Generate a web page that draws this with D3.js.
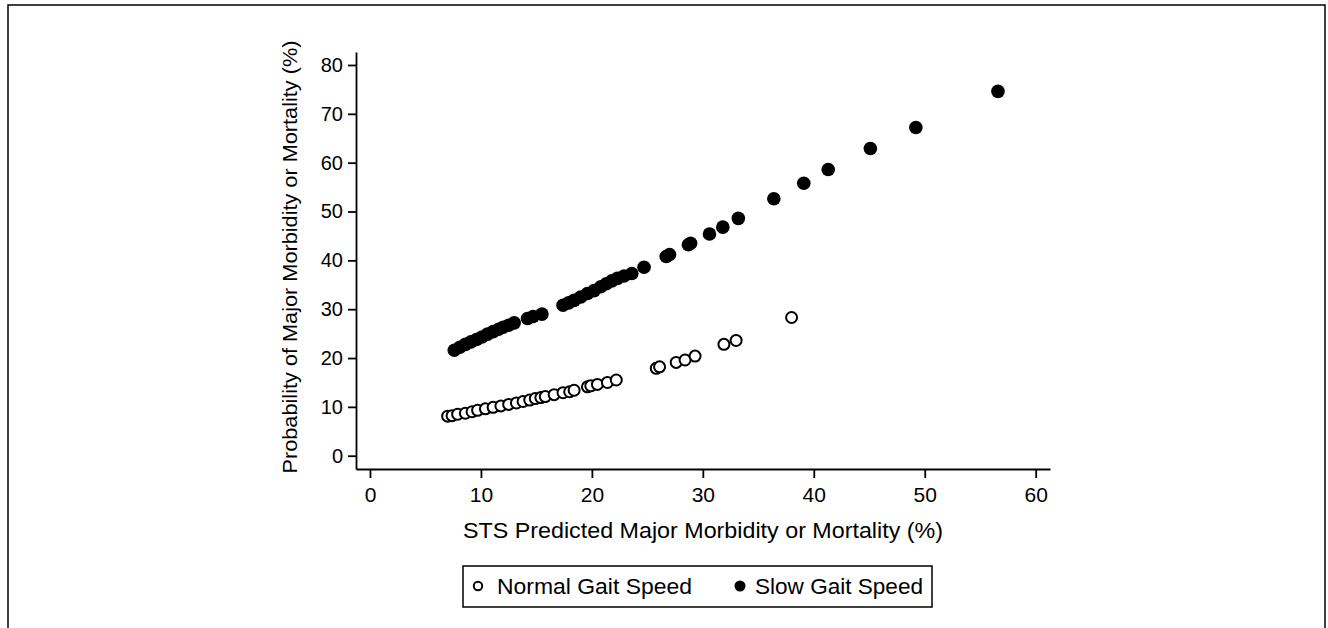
<!DOCTYPE html>
<html><head><meta charset="utf-8">
<script src="https://cdn.jsdelivr.net/npm/d3@7"></script>
<style>
html,body{margin:0;padding:0;background:#fff;}
svg{display:block;font-family:"Liberation Sans",Arial,sans-serif;}
</style></head>
<body>
<svg id="chart" width="1328" height="628"></svg>
<script>
// Slow gait speed (filled)
const slowX = [7.6, 8.1, 8.6, 9.1, 9.6, 10.1, 10.6, 11.1, 11.6, 12.0, 12.5, 13.0, 14.2, 14.7, 15.5, 17.4, 17.9, 18.4, 19.0, 19.6, 20.2, 20.8, 21.3, 21.8, 22.3, 22.9, 23.6, 24.7, 26.7, 27.0, 28.7, 28.9, 30.6, 31.8, 33.2, 36.4, 39.1, 41.3, 45.1, 49.2, 56.6];
const slowY = [21.6, 22.2, 22.8, 23.3, 23.8, 24.3, 24.9, 25.4, 25.9, 26.3, 26.7, 27.2, 28.1, 28.5, 29.0, 30.8, 31.3, 31.8, 32.5, 33.2, 33.8, 34.6, 35.2, 35.8, 36.3, 36.8, 37.3, 38.6, 40.8, 41.2, 43.2, 43.5, 45.4, 46.8, 48.6, 52.6, 55.8, 58.6, 62.9, 67.2, 74.6];
// Normal gait speed (hollow)
const normX = [7.0, 7.4, 7.9, 8.6, 9.2, 9.7, 10.4, 11.1, 11.8, 12.5, 13.2, 13.8, 14.4, 14.9, 15.4, 15.8, 16.6, 17.4, 18.0, 18.4, 19.6, 19.9, 20.5, 21.4, 22.2, 25.8, 26.1, 27.6, 28.4, 29.3, 31.9, 33.0, 38.0];
const normY = [8.1, 8.2, 8.5, 8.7, 9.0, 9.3, 9.6, 9.9, 10.2, 10.5, 10.8, 11.1, 11.4, 11.7, 11.9, 12.1, 12.5, 12.9, 13.1, 13.4, 14.1, 14.3, 14.6, 15.0, 15.5, 17.9, 18.2, 19.1, 19.6, 20.4, 22.8, 23.6, 28.3];
const xTicks = [0, 10, 20, 30, 40, 50, 60];
const yTicks = [0, 10, 20, 30, 40, 50, 60, 70, 80];
const seriesNames = ["Normal Gait Speed", "Slow Gait Speed"];
const xTitle = "STS Predicted Major Morbidity or Mortality (%)";
const yTitle = "Probability of Major Morbidity or Mortality (%)";

const svg = d3.select("#chart");

// outer frame
svg.append("rect").attr("x", 8).attr("y", 5).attr("width", 1317).attr("height", 640)
  .attr("fill", "none").attr("stroke", "#000").attr("stroke-width", 1.5);

const x = d3.scaleLinear().domain([-1.26, 61.29]).range([356, 1050]);
const y = d3.scaleLinear().domain([-2.72, 82.66]).range([469, 52]);

const xAxis = svg.append("g").attr("transform", "translate(0,469)")
  .call(d3.axisBottom(x).tickValues(xTicks).tickSize(9).tickSizeOuter(0).tickPadding(9).tickFormat(d3.format("d")));
const yAxis = svg.append("g").attr("transform", "translate(356,0)")
  .call(d3.axisLeft(y).tickValues(yTicks).tickSize(8).tickSizeOuter(0).tickPadding(5).tickFormat(d3.format("d")));
[xAxis, yAxis].forEach(g => {
  g.selectAll("path,line").attr("stroke", "#000").attr("stroke-width", 1.8);
  g.selectAll("text").attr("fill", "#000")
   .style("font-family", "'Liberation Sans', Arial, sans-serif");
});
xAxis.selectAll("text").style("font-size", "21px");
yAxis.selectAll("text").style("font-size", "20px");

svg.append("text").attr("x", 703).attr("y", 538).attr("text-anchor", "middle")
  .style("font-size", "22px").attr("fill", "#000")
  .attr("textLength", 480).attr("lengthAdjust", "spacingAndGlyphs").text(xTitle);
svg.append("text").attr("transform", "translate(297,257) rotate(-90)").attr("text-anchor", "middle")
  .style("font-size", "21px").attr("fill", "#000")
  .attr("textLength", 433).attr("lengthAdjust", "spacingAndGlyphs").text(yTitle);

const normal = normX.map((v, i) => [v, normY[i]]);
const slow = slowX.map((v, i) => [v, slowY[i]]);

svg.append("g").selectAll("circle").data(slow).join("circle")
  .attr("cx", d => x(d[0])).attr("cy", d => y(d[1])).attr("r", 6.8).attr("fill", "#000");
svg.append("g").selectAll("circle").data(normal).join("circle")
  .attr("cx", d => x(d[0])).attr("cy", d => y(d[1])).attr("r", 5.5)
  .attr("fill", "#fff").attr("stroke", "#000").attr("stroke-width", 2);

// legend
const lg = svg.append("g");
lg.append("rect").attr("x", 463).attr("y", 566).attr("width", 469).attr("height", 41)
  .attr("fill", "#fff").attr("stroke", "#000").attr("stroke-width", 1.5);
lg.append("circle").attr("cx", 478).attr("cy", 586).attr("r", 4.2).attr("fill", "#fff").attr("stroke", "#000").attr("stroke-width", 2);
lg.append("text").attr("x", 497).attr("y", 594).style("font-size", "22px").attr("fill", "#000")
  .attr("textLength", 195).attr("lengthAdjust", "spacingAndGlyphs").text(seriesNames[0]);
lg.append("circle").attr("cx", 740).attr("cy", 586).attr("r", 5.5).attr("fill", "#000");
lg.append("text").attr("x", 755).attr("y", 594).style("font-size", "22px").attr("fill", "#000")
  .attr("textLength", 168).attr("lengthAdjust", "spacingAndGlyphs").text(seriesNames[1]);
</script>
</body></html>
